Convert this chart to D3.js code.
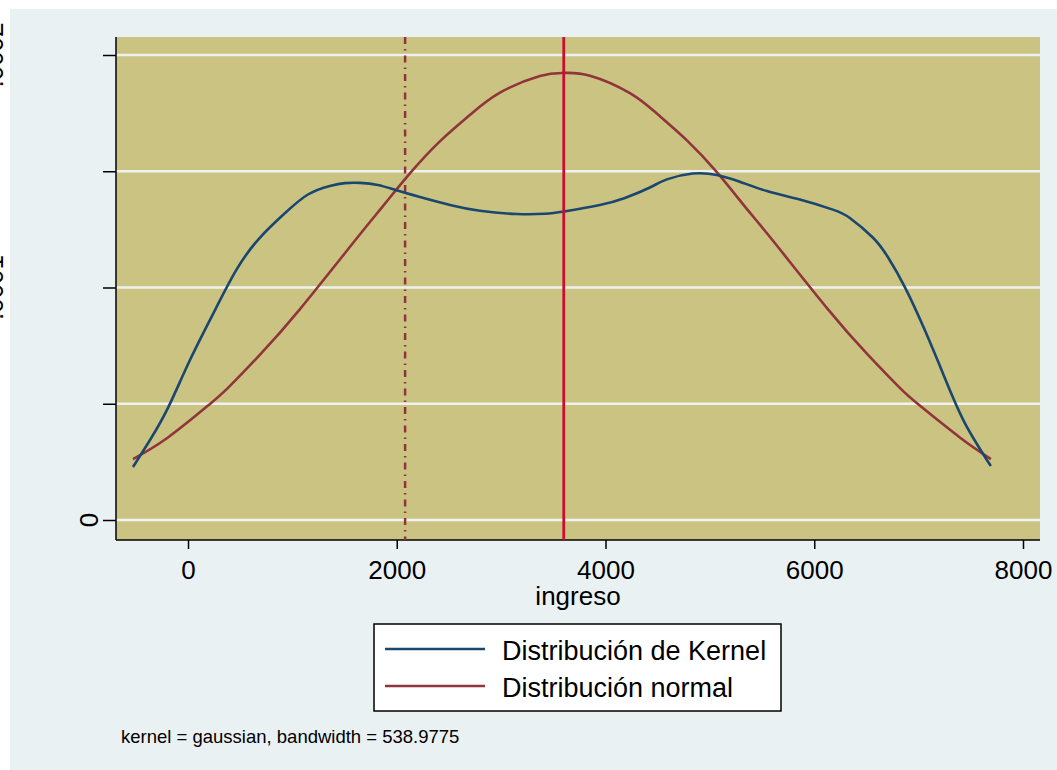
<!DOCTYPE html>
<html>
<head>
<meta charset="utf-8">
<script src="https://cdn.jsdelivr.net/npm/d3@7"></script>
<style>
  html, body { margin: 0; padding: 0; background: #ffffff; }
  svg { display: block; font-family: "Liberation Sans", Arial, Helvetica, sans-serif; }
</style>
</head>
<body>
<div id="chart"></div>
<script>
// Kernel density of ingreso vs. normal density (Stata-style look)
// densities are stored in units of 1e-4

const kernelX = [-527, -364, -192, 19, 259, 469, 690, 929, 1149, 1360, 1504, 1648, 1820, 1983,
    2222, 2510, 2797, 3151, 3420, 3602, 3946, 4186, 4425, 4588, 4837, 5067, 5287, 5546,
    5862, 6178, 6341, 6561, 6705, 6868, 7059, 7251, 7443, 7692];
const kernelY = [0.228, 0.344, 0.482, 0.688, 0.903, 1.080, 1.215, 1.320, 1.400, 1.437, 1.449, 1.450, 1.441, 1.420,
    1.389, 1.355, 1.330, 1.316, 1.317, 1.327, 1.355, 1.385, 1.430, 1.465, 1.490, 1.484, 1.455, 1.415,
    1.378, 1.335, 1.299, 1.215, 1.131, 1.002, 0.817, 0.611, 0.417, 0.232];

const normalX = [-527, -192, 192, 383, 690, 1073, 1600, 1868, 2136, 2423, 2700, 2989, 3372, 3602,
    3851, 4234, 4500, 4780, 5067, 5332, 5603, 6130, 6513, 6820, 7011, 7395, 7692];
const normalY = [0.262, 0.355, 0.492, 0.568, 0.711, 0.907, 1.202, 1.350, 1.496, 1.633, 1.742, 1.838, 1.910, 1.923,
    1.911, 1.836, 1.745, 1.633, 1.496, 1.350, 1.202, 0.907, 0.711, 0.568, 0.492, 0.355, 0.262];

const meanValue = 3600;
const medianValue = 2080;

const xTicks = [0, 2000, 4000, 6000, 8000];
const yTicks = [0, 0.5, 1, 1.5, 2];
const yLabels = [{ v: 0, t: '0' }, { v: 1, t: '.0001' }, { v: 2, t: '.0002' }];

const legendItems = ['Distribución de Kernel', 'Distribución normal'];
const noteText = 'kernel = gaussian, bandwidth = 538.9775';

const W = 1057, H = 770;
const PLOT = { left: 116, right: 1040, top: 37, bottom: 540 };

const C_BG = '#eaf1f3';
const C_PLOT = '#cbc382';
const C_GRID = '#eef3f1';
const C_KERNEL = '#1a476f';
const C_NORMAL = '#90353b';
const C_MEAN = '#c8102e';

const svg = d3.select('#chart').append('svg')
    .attr('width', W).attr('height', H);

// outer graph region
svg.append('rect').attr('x', 10).attr('y', 9).attr('width', W - 10).attr('height', H - 9).attr('fill', C_BG);

// plot region
svg.append('rect')
    .attr('x', PLOT.left).attr('y', PLOT.top)
    .attr('width', PLOT.right - PLOT.left).attr('height', PLOT.bottom - PLOT.top)
    .attr('fill', C_PLOT);

const x = d3.scaleLinear().domain([0, 8000]).range([188, 1023]);
const y = d3.scaleLinear().domain([0, 2]).range([520, 55]);

// grid
svg.append('g').selectAll('line').data(yTicks).join('line')
    .attr('x1', PLOT.left).attr('x2', PLOT.right)
    .attr('y1', d => y(d)).attr('y2', d => y(d))
    .attr('stroke', C_GRID).attr('stroke-width', 2.5);

// y axis
const yAxis = svg.append('g')
    .attr('transform', `translate(${PLOT.left},0)`)
    .call(d3.axisLeft(y).tickValues(yTicks).tickSize(13).tickFormat(''));
yAxis.select('.domain').attr('d', `M0,${PLOT.top}V${PLOT.bottom}`).attr('stroke', '#000').attr('stroke-width', 1.5);
yAxis.selectAll('.tick line').attr('stroke', '#000').attr('stroke-width', 1.5);

// y labels (rotated, Stata style); the upper two sit mostly past the left edge
svg.append('g').selectAll('text').data(yLabels).join('text')
    .attr('transform', d => d.v === 0
        ? `translate(98,${y(d.v)}) rotate(-90)`
        : `translate(3,${y(d.v)}) rotate(-90)`)
    .attr('text-anchor', 'middle')
    .attr('font-size', '26px')
    .attr('fill', '#000')
    .text(d => d.t);

// x axis
const xAxis = svg.append('g')
    .attr('transform', `translate(0,${PLOT.bottom})`)
    .call(d3.axisBottom(x).tickValues(xTicks).tickSize(9).tickPadding(12).tickFormat(d3.format('d')));
xAxis.select('.domain').attr('d', `M${PLOT.left},0H${PLOT.right}`).attr('stroke', '#000').attr('stroke-width', 1.5);
xAxis.selectAll('.tick line').attr('stroke', '#000').attr('stroke-width', 1.5);
xAxis.selectAll('.tick text')
    .attr('font-size', '26px').attr('font-family', '"Liberation Sans", Arial, sans-serif')
    .attr('fill', '#000').attr('dy', '0.71em');

svg.append('text')
    .attr('x', (PLOT.left + PLOT.right) / 2).attr('y', 605)
    .attr('text-anchor', 'middle').attr('font-size', '26px').attr('fill', '#000')
    .text('ingreso');

// curves
const plot = svg.append('g');
const lineGen = d3.line()
    .x(d => x(d[0])).y(d => y(d[1]))
    .curve(d3.curveNatural);

// median reference line
plot.append('line')
    .attr('x1', x(medianValue)).attr('x2', x(medianValue))
    .attr('y1', PLOT.top).attr('y2', PLOT.bottom)
    .attr('stroke', C_NORMAL).attr('stroke-width', 2.5)
    .attr('stroke-dasharray', '7,5,1.5,5');

plot.append('path')
    .datum(d3.zip(normalX, normalY))
    .attr('d', lineGen)
    .attr('fill', 'none').attr('stroke', C_NORMAL).attr('stroke-width', 2.6);

plot.append('path')
    .datum(d3.zip(kernelX, kernelY))
    .attr('d', lineGen)
    .attr('fill', 'none').attr('stroke', C_KERNEL).attr('stroke-width', 2.6);

// mean reference line
plot.append('line')
    .attr('x1', x(meanValue)).attr('x2', x(meanValue))
    .attr('y1', PLOT.top).attr('y2', PLOT.bottom)
    .attr('stroke', C_MEAN).attr('stroke-width', 2.8);

// legend
const legend = svg.append('g');
legend.append('rect')
    .attr('x', 374).attr('y', 624).attr('width', 407).attr('height', 87)
    .attr('fill', '#fff').attr('stroke', '#000').attr('stroke-width', 1.5);
const legendColors = [C_KERNEL, C_NORMAL];
legendItems.forEach((label, i) => {
    const ly = 649 + i * 37;
    legend.append('line')
        .attr('x1', 385).attr('x2', 485).attr('y1', ly).attr('y2', ly)
        .attr('stroke', legendColors[i]).attr('stroke-width', 2.6);
    legend.append('text')
        .attr('x', 502).attr('y', ly + 11)
        .attr('font-size', '27px').attr('fill', '#000')
        .text(label);
});

// note
svg.append('text')
    .attr('x', 121).attr('y', 743)
    .attr('font-size', '18.5px').attr('fill', '#000')
    .text(noteText);
</script>
</body>
</html>
